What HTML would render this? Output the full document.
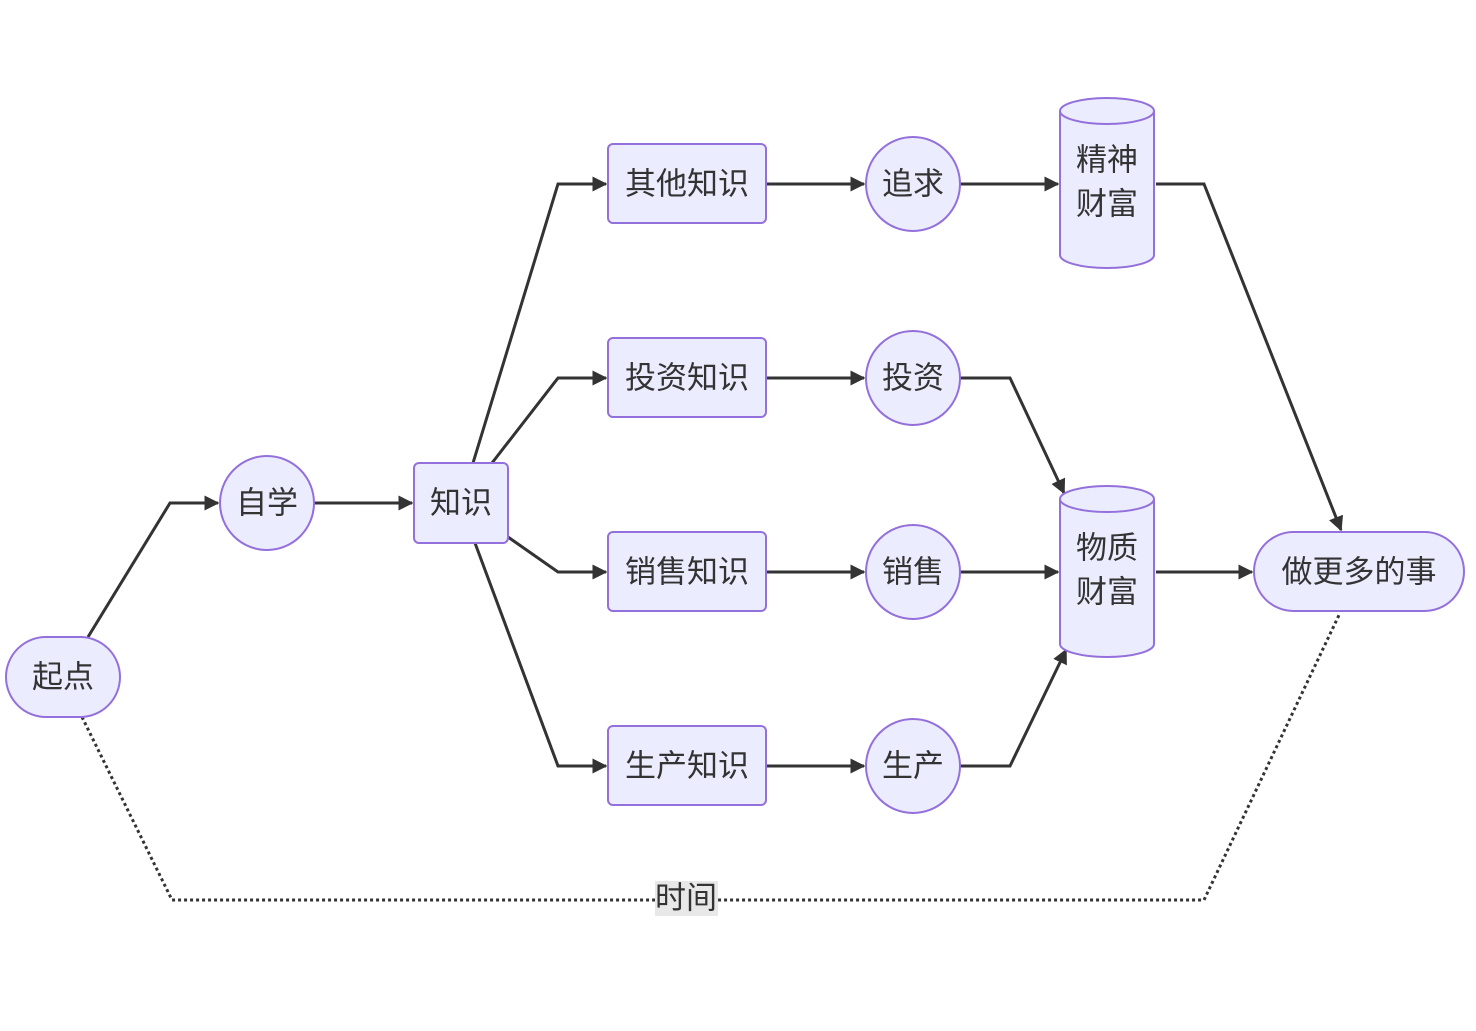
<!DOCTYPE html>
<html><head><meta charset="utf-8"><style>
html,body{margin:0;padding:0;background:#fff;}
svg text{font-family:"Liberation Sans","Noto Sans CJK SC",sans-serif;font-size:31px;fill:#333;text-anchor:middle;dominant-baseline:central;}
</style></head><body>
<svg width="1476" height="1026" viewBox="0 0 1476 1026" xmlns="http://www.w3.org/2000/svg">
<defs>
<marker id="a" viewBox="0 0 10 10" refX="9" refY="5" markerWidth="5" markerHeight="5" orient="auto"><path d="M0,0L10,5L0,10z" fill="#333"/></marker>
</defs>
<g fill="none" stroke="#333" stroke-width="3">
<polyline points="88,637 170,503 218,503" marker-end="url(#a)"/>
<polyline points="314,503 412,503" marker-end="url(#a)"/>
<polyline points="473,463 558,184 606,184" marker-end="url(#a)"/>
<polyline points="492,463 558,378 606,378" marker-end="url(#a)"/>
<polyline points="508,537 558,572 606,572" marker-end="url(#a)"/>
<polyline points="475,543 558,766 606,766" marker-end="url(#a)"/>
<polyline points="766,184 864,184" marker-end="url(#a)"/>
<polyline points="766,378 864,378" marker-end="url(#a)"/>
<polyline points="766,572 864,572" marker-end="url(#a)"/>
<polyline points="766,766 864,766" marker-end="url(#a)"/>
<polyline points="960,184 1058,184" marker-end="url(#a)"/>
<polyline points="960,378 1010,378 1064,493" marker-end="url(#a)"/>
<polyline points="960,572 1058,572" marker-end="url(#a)"/>
<polyline points="960,766 1010,766 1066,650" marker-end="url(#a)"/>
<polyline points="1156,184 1204,184 1341,530" marker-end="url(#a)"/>
<polyline points="1156,572 1252,572" marker-end="url(#a)"/>
<polyline points="82,717 172,900 1204,900 1340,613" stroke-dasharray="3,3"/>
</g>
<g fill="#ECECFF" stroke="#9370DB" stroke-width="2">
<rect x="6" y="637" width="114" height="80" rx="40"/>
<circle cx="267" cy="503" r="47"/>
<rect x="414" y="463" width="94" height="80" rx="5"/>
<rect x="608" y="144" width="158" height="79" rx="5"/>
<rect x="608" y="338" width="158" height="79" rx="5"/>
<rect x="608" y="532" width="158" height="79" rx="5"/>
<rect x="608" y="726" width="158" height="79" rx="5"/>
<circle cx="913" cy="184" r="47"/>
<circle cx="913" cy="378" r="47"/>
<circle cx="913" cy="572" r="47"/>
<circle cx="913" cy="766" r="47"/>
<path d="M1060,111 a47,13 0 0 1 94,0 v144 a47,13 0 0 1 -94,0 z"/>
<path d="M1060,111 a47,13 0 0 0 94,0"/>
<path d="M1060,499 a47,13 0 0 1 94,0 v145 a47,13 0 0 1 -94,0 z"/>
<path d="M1060,499 a47,13 0 0 0 94,0"/>
<rect x="1254" y="532" width="210" height="79" rx="39.5"/>
</g>
<rect x="655" y="881" width="63" height="35" fill="#e8e8e8"/>
<text x="63" y="677">起点</text>
<text x="267" y="503">自学</text>
<text x="461" y="503">知识</text>
<text x="687" y="184">其他知识</text>
<text x="687" y="378">投资知识</text>
<text x="687" y="572">销售知识</text>
<text x="687" y="766">生产知识</text>
<text x="913" y="184">追求</text>
<text x="913" y="378">投资</text>
<text x="913" y="572">销售</text>
<text x="913" y="766">生产</text>
<text x="1107" y="160">精神</text>
<text x="1107" y="204">财富</text>
<text x="1107" y="548">物质</text>
<text x="1107" y="592">财富</text>
<text x="1359" y="572">做更多的事</text>
<text x="686" y="898">时间</text>
</svg>
</body></html>
